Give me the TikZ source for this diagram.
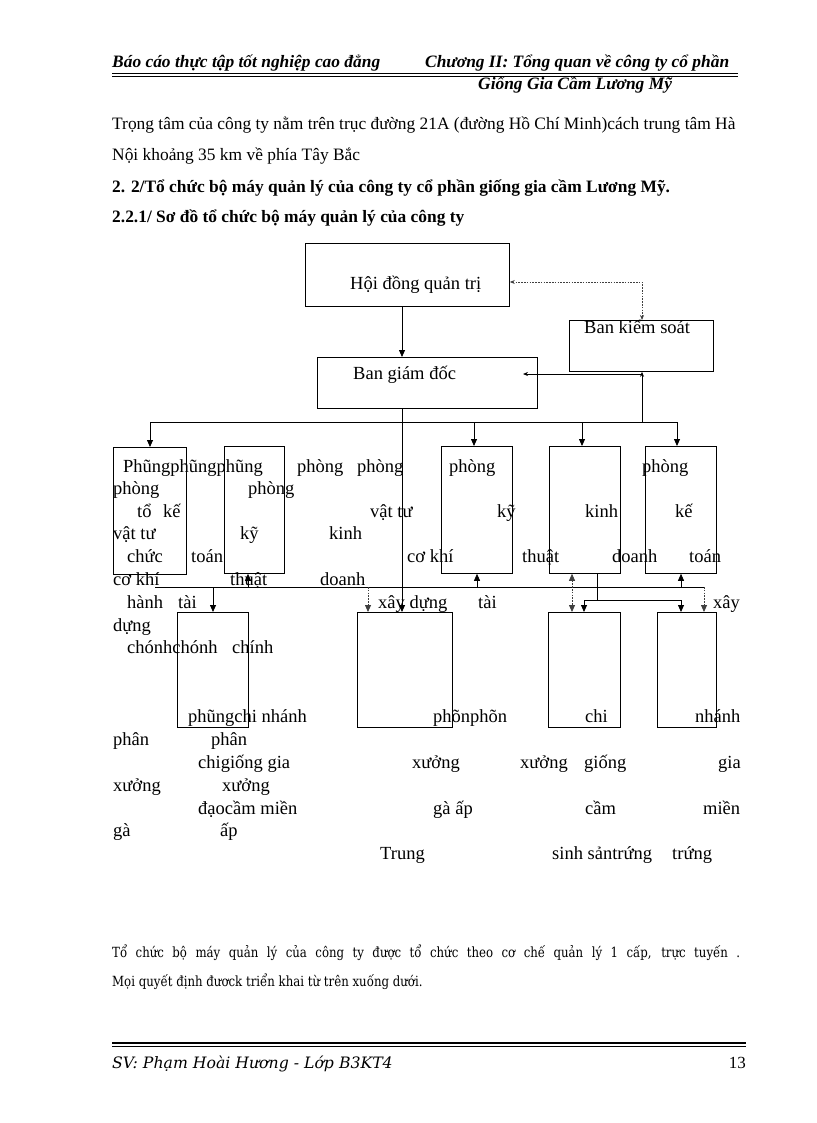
\documentclass[tikz,border=0pt]{standalone}
\usepackage{fontspec}
\setmainfont{Liberation Serif}
\newfontfamily\dvs[FakeStretch=0.84]{DejaVu Serif}
\newfontfamily\dvsn{DejaVu Serif}
\usetikzlibrary{arrows.meta}
\newcommand{\mybox}[5]{\node[box, minimum width={#4-#2}, minimum height={#5-#3}] (#1) at (#2,#3) {};}
\begin{document}
\begin{tikzpicture}[x=1pt,y=-1pt,
  box/.style={draw, line width=0.8pt, inner sep=0, anchor=north west},
  txt/.style={anchor=mid west, inner sep=0, font=\fontsize{18.5}{20}\selectfont},
  body/.style={anchor=mid west, inner sep=0, font=\fontsize{17.4}{19}\selectfont},
  bodyb/.style={anchor=mid west, inner sep=0, font=\fontsize{17.4}{19}\selectfont\bfseries},
  head/.style={anchor=base west, inner sep=0, font=\fontsize{17.4}{19}\selectfont\bfseries\itshape},
  low/.style={anchor=mid west, inner sep=0, font=\fontsize{14}{16}\selectfont\dvs},
  foot/.style={anchor=base west, inner sep=0, font=\fontsize{15.7}{17}\selectfont\dvsn\itshape},
  ln/.style={line width=0.8pt},
  arr/.style={line width=0.8pt, -{Triangle[length=7pt,width=6pt]}},
  sarr/.style={line width=0.8pt, -{Stealth[length=5pt,width=4pt]}},
  dot/.style={line width=0.8pt, dash pattern=on 1.6pt off 1.2pt, black!75},
]
\useasboundingbox[fill=white] (0,0) rectangle (816,1123);

% header and footer
\node[head] (h1) at (112,68) {Báo cáo thực tập tốt nghiệp cao đẳng};
\node[head] (h2) at (425,68) {Chương II: Tổng quan về công ty cổ phần};
\node[head] (h3) at (478,90) {Giống Gia Cầm Lương Mỹ};
\coordinate (rl1) at (112,73.5); \coordinate (rr1) at (738,73.5);
\coordinate (rl2) at (112,76.5); \coordinate (rr2) at (738,76.5);
\draw[line width=1.6pt] (rl1) -- (rr1);
\draw[line width=0.7pt] (rl2) -- (rr2);

\node[body] (p1) at (112,127) {Trọng tâm của công ty nằm trên trục đường 21A (đường Hồ Chí Minh)cách trung tâm Hà};
\node[body] (p2) at (112,158) {Nội khoảng 35 km về phía Tây Bắc};
\node[bodyb] (p3) at (112,190) {2. 2/Tổ chức bộ máy quản lý của công ty cổ phần giống gia cầm Lương Mỹ.};
\node[bodyb] (p4) at (112,220) {2.2.1/ Sơ đồ tổ chức bộ máy quản lý của công ty};

\node[low] (q1) at (112,955) {\makebox[628pt][s]{Tổ chức bộ máy quản lý của công ty được tổ chức theo cơ chế quản lý 1 cấp, trực tuyến .}};
\node[low] (q2) at (112,984) {Mọi quyết định đươck triển khai từ trên xuống dưới.};

\coordinate (fl1) at (112,1043); \coordinate (fr1) at (746,1043);
\coordinate (fl2) at (112,1046.5); \coordinate (fr2) at (746,1046.5);
\draw[line width=1.6pt] (fl1) -- (fr1);
\draw[line width=0.7pt] (fl2) -- (fr2);
\node[foot] (f1) at (112,1068) {SV: Phạm Hoài Hương - Lớp B3KT4};
\node[anchor=base east, inner sep=0, font=\fontsize{17}{18}\selectfont] (f2) at (746,1068) {13};

% boxes
\mybox{hdqt}{305}{243}{509}{306}
\mybox{bks}{569}{320}{713}{371}
\mybox{bgd}{317}{357}{537}{408}
\mybox{b1}{113}{447}{186}{574}
\mybox{b2}{224}{446}{284}{573}
\mybox{b4}{441}{446}{512}{573}
\mybox{b5}{549}{446}{620}{573}
\mybox{b6}{645}{446}{716}{573}
\mybox{b7}{177}{612}{248}{727}
\mybox{b8}{357}{612}{452}{727}
\mybox{b9}{548}{612}{620}{727}
\mybox{b10}{657}{612}{716}{727}

\node[txt] (l1) at (350,287) {Hội đồng quản trị};
\node[txt] (l2) at (584,331) {Ban kiểm soát};
\node[txt] (l3) at (353,377) {Ban giám đốc};

% connectors top
\coordinate (v1) at (402,0);
\draw[arr] (hdqt.south -| v1) -- (bgd.north -| v1);
\draw[arr] (bgd.south -| v1) -- (b8.north -| v1);
\coordinate (dk) at (642,282);
\draw[dot, {Stealth[length=5pt,width=4pt]}-{Stealth[length=5pt,width=4pt]}] (hdqt.east |- dk) -- (dk) -- (bks.north -| dk);
\coordinate (vk) at (642,422);
\coordinate (hk) at (642,374);
\coordinate (bgdin) at (523,374);
\draw[sarr] (vk) -- (bks.south -| vk);
\draw[sarr] (hk) -- (bgdin);

% first bus
\coordinate (busL) at (150,422); \coordinate (busR) at (677,422);
\coordinate (d4) at (474,422); \coordinate (d5) at (582,422);
\draw[ln] (busL) -- (busR);
\draw[arr] (busL) -- (b1.north -| busL);
\draw[arr] (d4) -- (b4.north -| d4);
\draw[arr] (d5) -- (b5.north -| d5);
\draw[arr] (busR) -- (b6.north -| busR);

% second bus
\coordinate (cL) at (155,587); \coordinate (cR) at (704,587);
\draw[ln] (cL) -- (cR);
\coordinate (u7) at (213,587); \coordinate (u2) at (248,587);
\coordinate (u8) at (368,587); \coordinate (u4) at (477,587);
\coordinate (u5) at (572,0); \coordinate (s5) at (597,600);
\coordinate (s9) at (584,600); \coordinate (s10) at (681,600);
\coordinate (u6) at (681,587);
\draw[arr] (u7) -- (b7.north -| u7);
\draw[arr] (u2) -- (b2.south -| u2);
\draw[dot, -{Triangle[length=7pt,width=6pt]}] (u8) -- (b8.north -| u8);
\draw[arr] (u4) -- (b4.south -| u4);
\draw[dot, {Triangle[length=7pt,width=6pt]}-{Triangle[length=7pt,width=6pt]}] (b5.south -| u5) -- (b9.north -| u5);
\draw[ln] (b5.south -| s5) -- (s5);
\draw[ln] (s9) -- (s10);
\draw[arr] (s9) -- (b9.north -| s9);
\draw[arr] (s10) -- (b10.north -| s10);
\draw[arr] (u6) -- (b6.south -| u6);
\draw[dot, -{Triangle[length=7pt,width=6pt]}] (cR) -- (b10.north -| cR);

% garbled labels
\node[txt] (t1) at (123,470) {Phũngphũngphũng};
\node[txt] (t2) at (297,470) {phòng};
\node[txt] (t3) at (357,470) {phòng};
\node[txt] (t4) at (449,470) {phòng};
\node[txt] (t5) at (642,470) {phòng};
\node[txt] (t6) at (113,492) {phòng};
\node[txt] (t7) at (248,492) {phòng};
\node[txt] (t8) at (137,515) {tổ};
\node[txt] (t9) at (163,515) {kế};
\node[txt] (t10) at (370,515) {vật tư};
\node[txt] (t11) at (497,515) {kỹ};
\node[txt] (t12) at (585,515) {kinh};
\node[txt] (t13) at (675,515) {kế};
\node[txt] (t14) at (113,537) {vật tư};
\node[txt] (t15) at (240,537) {kỹ};
\node[txt] (t16) at (329,537) {kinh};
\node[txt] (t17) at (127,560) {chức};
\node[txt] (t18) at (191,560) {toán};
\node[txt] (t19) at (407,560) {cơ khí};
\node[txt] (t20) at (522,560) {thuật};
\node[txt] (t21) at (612,560) {doanh};
\node[txt] (t22) at (689,560) {toán};
\node[txt] (t23) at (113,583) {cơ khí};
\node[txt] (t24) at (230,583) {thuật};
\node[txt] (t25) at (320,583) {doanh};
\node[txt] (t26) at (127,606) {hành};
\node[txt] (t27) at (178,606) {tài};
\node[txt] (t28) at (378,606) {xây dựng};
\node[txt] (t29) at (478,606) {tài};
\node[txt] (t30) at (713,606) {xây};
\node[txt] (t31) at (113,629) {dựng};
\node[txt] (t32) at (127,651) {chónhchónh};
\node[txt] (t33) at (232,651) {chính};
\node[txt] (t34) at (188,720) {phũngchi nhánh};
\node[txt] (t35) at (433,720) {phõnphõn};
\node[txt] (t36) at (585,720) {chi};
\node[txt] (t37) at (695,720) {nhánh};
\node[txt] (t38) at (113,743) {phân};
\node[txt] (t39) at (211,743) {phân};
\node[txt] (t40) at (198,766) {chigiống gia};
\node[txt] (t41) at (412,766) {xưởng};
\node[txt] (t42) at (520,766) {xưởng};
\node[txt] (t43) at (584,766) {giống};
\node[txt] (t44) at (718,766) {gia};
\node[txt] (t45) at (113,789) {xưởng};
\node[txt] (t46) at (222,789) {xưởng};
\node[txt] (t47) at (198,812) {đạocầm miền};
\node[txt] (t48) at (433,812) {gà ấp};
\node[txt] (t49) at (585,812) {cầm};
\node[txt] (t50) at (703,812) {miền};
\node[txt] (t51) at (113,834) {gà};
\node[txt] (t52) at (220,834) {ấp};
\node[txt] (t53) at (380,857) {Trung};
\node[txt] (t54) at (552,857) {sinh sảntrứng};
\node[txt] (t55) at (672,857) {trứng};
\end{tikzpicture}
\end{document}
